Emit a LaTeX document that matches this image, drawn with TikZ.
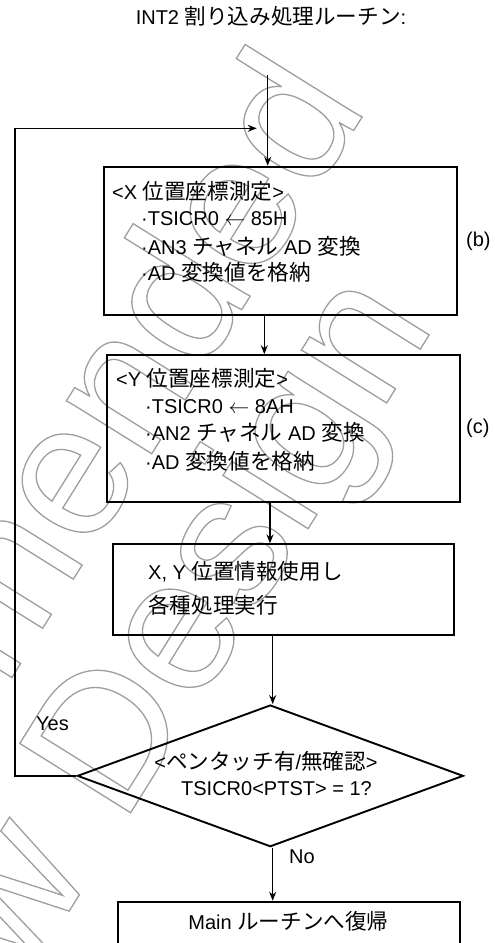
\documentclass[tikz,border=0pt]{standalone}
\usepackage{fontspec}
\setmainfont{Liberation Sans}
\newfontfamily\jp{Noto Sans CJK JP}[Scale=1.08]
\usetikzlibrary{arrows.meta,shapes.geometric}
\newcommand{\J}[1]{{\jp #1}}
\newcommand{\wmon}{\special{pdf:literal direct 1 Tr 1.3 w}}
\newcommand{\wmoff}{\special{pdf:literal direct 0 Tr}}
\begin{document}
\begin{tikzpicture}[x=1pt,y=-1pt,
  every node/.style={inner sep=0pt},
  font=\fontsize{20}{24}\selectfont,
  box/.style={draw,line width=1.9pt},
  txt/.style={anchor=base west},
  ctr/.style={anchor=base},
  con/.style={line width=1.4pt},
  arr/.style={con,-{Stealth[length=9pt,width=7pt,inset=3pt]}},
  wm/.style={rotate=58,text=black!38,anchor=base east,font=\fontsize{190}{190}\selectfont}]
\useasboundingbox (0,0) rectangle (495,943);
\clip (0,0) rectangle (495,943);
% watermark
\node[wm] (wm1) at (369,106) {\wmon Not Recommended\wmoff};
\node[wm] (wm2) at (436,324) {\wmon for New Design\wmoff};
% title
\node[ctr] (title) at (271,24) {INT2 \J{割り込み処理ルーチン}:};
% boxes
\node[box,minimum width=352.4pt,minimum height=148.3pt] (bx) at (280.5,240.85) {};
\node[box,minimum width=352.7pt,minimum height=147pt] (by) at (283.65,428.65) {};
\node[box,minimum width=341.6pt,minimum height=90.7pt] (bp) at (283.5,589.65) {};
\node[draw,diamond,line width=1.9pt,minimum width=386pt,minimum height=141.7pt] (dm) at (270.3,775.85) {};
\node[box,minimum width=341.7pt,minimum height=80pt] (bm) at (289.15,941.7) {};
% texts
\node[txt] (x1) at (112,199) {<X \J{位置座標測定}>};
\node[txt] (x2) at (141,225) {·TSICR0 $\leftarrow$ 85H};
\node[txt] (x3) at (141,254) {·AN3 \J{チャネル} AD \J{変換}};
\node[txt] (x4) at (141,280) {·AD \J{変換値を格納}};
\node[txt] (lb) at (466,246) {(b)};
\node[txt] (y1) at (116,386) {<Y \J{位置座標測定}>};
\node[txt] (y2) at (145,413) {·TSICR0 $\leftarrow$ 8AH};
\node[txt] (y3) at (145,440) {·AN2 \J{チャネル} AD \J{変換}};
\node[txt] (y4) at (145,469) {·AD \J{変換値を格納}};
\node[txt] (lc) at (466,433) {(c)};
\node[txt] (p1) at (148,579) {X, Y \J{位置情報使用し}};
\node[txt] (p2) at (148,613) {\J{各種処理実行}};
\node[ctr] (d1) at (266,769) {<\J{ペンタッチ有}/\J{無確認}>};
\node[ctr] (d2) at (276.5,795) {TSICR0<PTST> = 1?};
\node[txt] (yes) at (36,730) {Yes};
\node[txt] (no) at (289,863) {No};
\node[ctr] (m1) at (288.5,929) {Main \J{ルーチンへ復帰}};
% connectors
\coordinate (start) at (267.7,75);
\coordinate (lpb) at (15,775.85);
\coordinate (lpt) at (15,128.3);
\coordinate (lpe) at (256.7,128.3);
\draw[arr] (start) -- (start |- bx.north);
\draw[arr] ([xshift=-16.2pt]bx.south) -- ([xshift=-16.2pt]bx.south |- by.north);
\draw[arr] ([xshift=-13.65pt]by.south) -- ([xshift=-13.65pt]by.south |- bp.north);
\draw[arr] ([xshift=-10.8pt]bp.south) -- ([xshift=-10.8pt]bp.south |- dm.north);
\draw[arr] ([xshift=2.4pt]dm.south) -- ([xshift=2.4pt]dm.south |- bm.north);
\draw[arr] (dm.west) -- (lpb) -- (lpt) -- (lpe);
\end{tikzpicture}
\end{document}
